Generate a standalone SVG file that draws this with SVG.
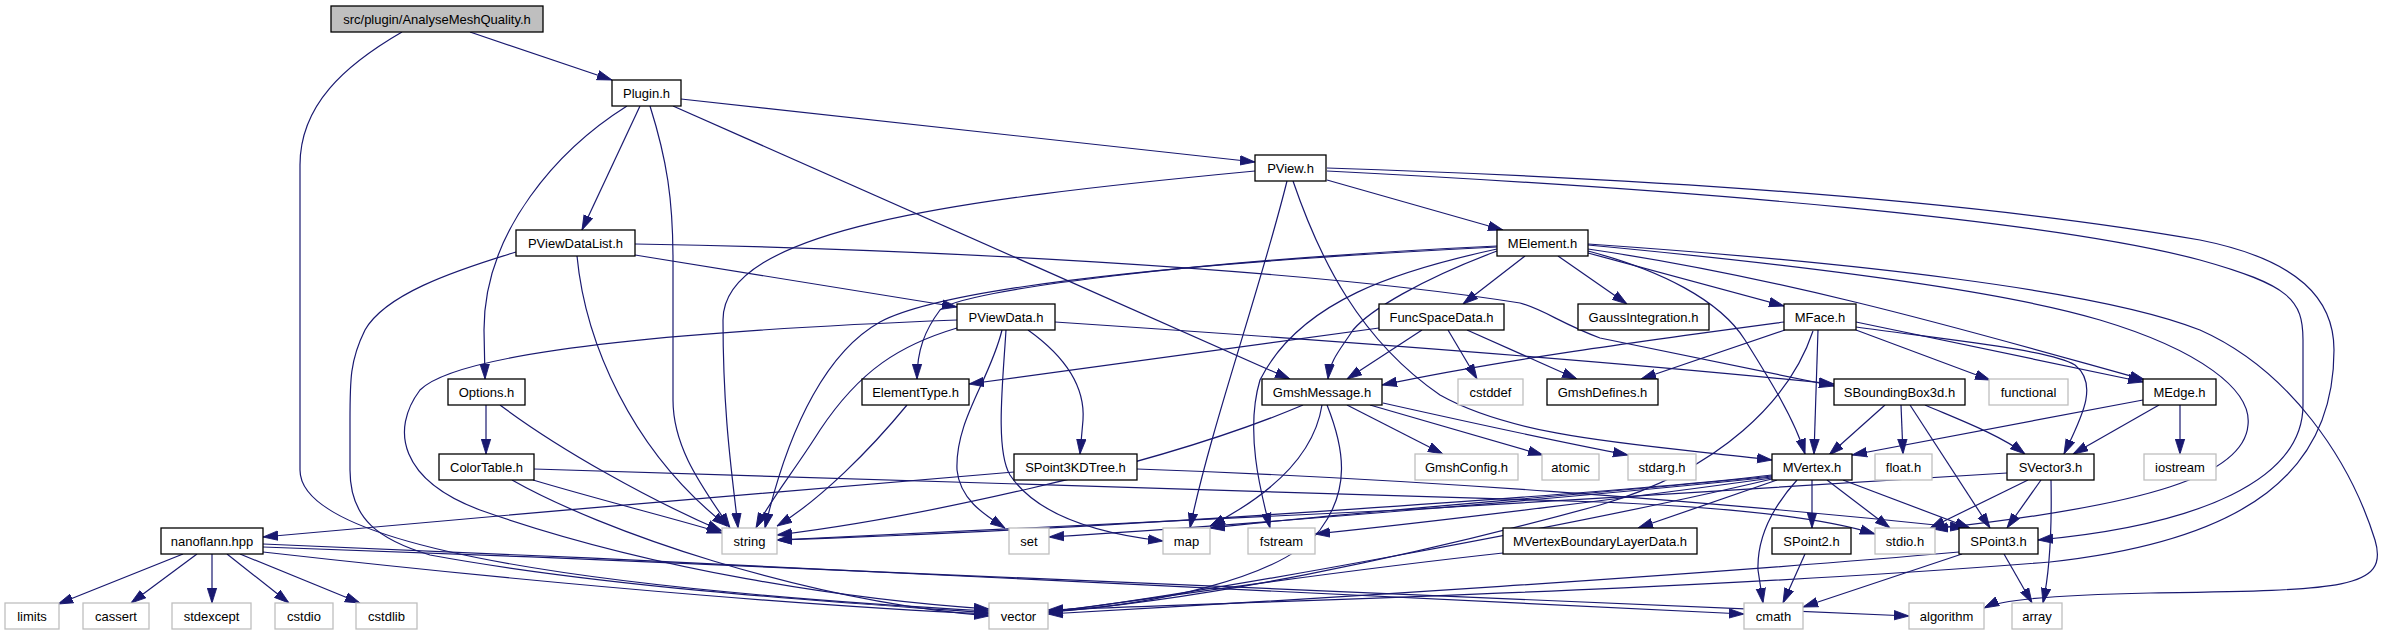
<svg xmlns="http://www.w3.org/2000/svg" width="2381" height="635" viewBox="0 0 2381 635">
<defs>
<marker id="a" markerUnits="userSpaceOnUse" markerWidth="15" markerHeight="11" viewBox="0 0 14 10" refX="14" refY="5" orient="auto">
<path d="M0,0.6 L14,5 L0,9.4 z" fill="#191970" stroke="#191970" stroke-width="0.8"/>
</marker>
<style>
.n rect{fill:#ffffff;stroke:#000000;stroke-width:1.3}
.g rect{fill:#ffffff;stroke:#bfbfbf;stroke-width:1.3}
.r rect{fill:#bfbfbf;stroke:#000000;stroke-width:1.3}
text{font-family:"Liberation Sans",Arial,sans-serif;font-size:13px;text-anchor:middle;fill:#000000}
#edges path{fill:none;stroke:#191970;stroke-width:1.2;marker-end:url(#a)}
</style>
</defs>
<rect x="0" y="0" width="2381" height="635" fill="#ffffff"/>
<g id="edges">
<path d="M470,32 L612,80"/>
<path d="M402,32 C345,65 300,105 300,165 L300,470 C300,560 700,595 989,611"/>
<path d="M640,106 L582,230"/>
<path d="M627,106 C560,148 484,230 484,330 L485,379"/>
<path d="M650,106 C667,160 673,200 673,260 L673,400 C673,450 705,490 730,528"/>
<path d="M681,99 L1255,162"/>
<path d="M673,106 L1290,379"/>
<path d="M1327,180 L1503,230"/>
<path d="M1255,171 C950,200 723,230 723,320 C723,420 733,480 738,528"/>
<path d="M1287,181 C1260,290 1210,430 1190,528"/>
<path d="M1293,181 C1320,260 1360,340 1440,395 C1520,440 1650,445 1772,460"/>
<path d="M1327,171 C1700,190 2050,220 2200,260 C2290,285 2303,300 2303,340 L2303,405 C2303,480 2200,525 2038,540"/>
<path d="M1327,168 C1700,180 2000,205 2200,240 C2300,260 2334,300 2334,350 C2334,470 2250,540 2050,562 C1700,590 1300,600 1048,610"/>
<path d="M635,255 L957,307"/>
<path d="M635,244 C900,248 1300,268 1520,303 C1545,310 1560,323 1600,338 L1834,386"/>
<path d="M577,256 C585,340 630,450 727,526"/>
<path d="M516,252 C450,272 385,295 365,330 C350,360 350,380 350,420 L350,470 C350,520 380,540 430,555 C620,590 880,605 989,613"/>
<path d="M500,405 C560,450 650,500 722,531"/>
<path d="M486,405 L486,454"/>
<path d="M533,480 C600,500 680,520 722,533"/>
<path d="M512,480 C600,530 800,600 989,616"/>
<path d="M534,469 C800,477 1200,490 1600,502 C1750,508 1830,520 1875,534"/>
<path d="M1002,330 C990,380 955,420 957,470 C960,500 985,515 1005,528"/>
<path d="M1006,330 C1003,380 995,450 1010,475 C1040,520 1110,535 1163,541"/>
<path d="M1028,330 C1070,360 1085,390 1083,420 L1080,454"/>
<path d="M957,328 C900,345 860,370 820,430 C795,470 770,500 756,528"/>
<path d="M957,320 C700,330 460,350 420,390 C390,430 400,480 480,510 C650,570 850,600 989,609"/>
<path d="M1055,322 C1400,345 1650,365 1834,384"/>
<path d="M1525,256 L1463,304"/>
<path d="M1558,256 L1627,304"/>
<path d="M1588,253 L1784,306"/>
<path d="M1588,251 C1660,270 1720,300 1745,340 C1770,380 1795,420 1805,454"/>
<path d="M1588,249 C1800,280 2000,340 2145,380"/>
<path d="M1588,245 C1800,265 2000,290 2100,320 C2200,350 2252,390 2248,425 C2244,475 2150,505 1933,529"/>
<path d="M1588,244 C1850,262 2100,290 2200,330 C2290,370 2350,460 2375,540 C2390,590 2340,590 2150,593 C2050,595 2000,600 1984,608"/>
<path d="M1497,247 C1200,262 950,285 880,322 C830,350 790,420 765,528"/>
<path d="M1497,246 C1200,260 960,290 940,310 C925,330 917,350 917,379"/>
<path d="M1497,249 C1400,270 1300,300 1260,380 C1245,430 1260,490 1270,528"/>
<path d="M1497,251 C1420,280 1370,310 1353,330 C1340,350 1330,360 1328,379"/>
<path d="M1856,322 L2143,382"/>
<path d="M1856,327 C1950,340 2050,350 2075,365 C2100,385 2080,420 2064,454"/>
<path d="M1856,330 L1990,380"/>
<path d="M1784,322 C1650,340 1500,360 1382,385"/>
<path d="M1785,330 L1641,379"/>
<path d="M1818,330 L1814,454"/>
<path d="M1813,331 C1790,400 1720,470 1600,505 C1400,560 1200,600 1048,612"/>
<path d="M2143,400 L1852,455"/>
<path d="M2159,405 L2073,454"/>
<path d="M2180,405 L2180,454"/>
<path d="M1885,405 L1829,455"/>
<path d="M1901,405 L1903,454"/>
<path d="M1910,405 L1990,528"/>
<path d="M1925,405 C1960,420 2000,435 2025,454"/>
<path d="M2041,480 L2007,528"/>
<path d="M2051,480 C2052,530 2050,570 2043,603"/>
<path d="M2028,480 L1930,528"/>
<path d="M2007,473 C1850,484 1600,498 1400,510 C1100,525 900,535 777,540"/>
<path d="M1422,330 L1347,379"/>
<path d="M1448,330 L1477,379"/>
<path d="M1467,330 L1577,379"/>
<path d="M1379,328 L969,384"/>
<path d="M907,405 C870,450 820,500 777,526"/>
<path d="M1303,405 C1150,470 900,520 777,535"/>
<path d="M1322,405 C1315,450 1280,490 1210,526"/>
<path d="M1327,405 C1345,450 1350,490 1320,530 C1280,580 1150,605 1048,612"/>
<path d="M1347,405 L1443,454"/>
<path d="M1370,405 L1543,455"/>
<path d="M1383,403 C1450,418 1550,440 1628,455"/>
<path d="M1014,472 C800,490 500,515 263,537"/>
<path d="M1137,469 C1400,478 1700,500 1965,528"/>
<path d="M183,554 L58,604"/>
<path d="M197,554 L131,603"/>
<path d="M212,554 L212,603"/>
<path d="M227,554 L289,603"/>
<path d="M240,554 L360,603"/>
<path d="M263,552 C600,590 850,608 989,614"/>
<path d="M263,544 C800,565 1400,600 1744,614"/>
<path d="M263,547 C900,570 1600,600 1909,616"/>
<path d="M1777,480 L1638,528"/>
<path d="M1797,480 C1770,510 1757,540 1758,570 L1763,603"/>
<path d="M1812,480 L1812,528"/>
<path d="M1827,480 L1890,528"/>
<path d="M1843,480 L1970,528"/>
<path d="M1772,475 C1650,490 1100,530 777,540"/>
<path d="M1772,477 C1600,495 1250,525 1049,537"/>
<path d="M1772,476 C1620,492 1350,512 1210,528"/>
<path d="M1772,478 C1650,495 1450,520 1315,534"/>
<path d="M1772,479 C1600,520 1200,595 1048,612"/>
<path d="M1503,553 C1300,575 1150,600 1048,612"/>
<path d="M1805,554 L1783,603"/>
<path d="M1962,554 L1803,607"/>
<path d="M2004,554 L2032,603"/>
<path d="M1959,552 C1700,575 1300,600 1048,614"/>
</g>
<g id="n_root" class="r"><rect x="331" y="6" width="212" height="26"/><text x="437" y="23.5">src/plugin/AnalyseMeshQuality.h</text></g>
<g id="n_plugin" class="n"><rect x="612" y="80" width="69" height="26"/><text x="646.5" y="97.5">Plugin.h</text></g>
<g id="n_pview" class="n"><rect x="1255" y="155" width="71" height="26"/><text x="1290.5" y="172.5">PView.h</text></g>
<g id="n_pviewdatalist" class="n"><rect x="516" y="230" width="119" height="26"/><text x="575.5" y="247.5">PViewDataList.h</text></g>
<g id="n_melement" class="n"><rect x="1497" y="230" width="91" height="26"/><text x="1542.5" y="247.5">MElement.h</text></g>
<g id="n_pviewdata" class="n"><rect x="957" y="304" width="98" height="26"/><text x="1006" y="321.5">PViewData.h</text></g>
<g id="n_funcspacedata" class="n"><rect x="1379" y="304" width="125" height="26"/><text x="1441.5" y="321.5">FuncSpaceData.h</text></g>
<g id="n_gaussintegration" class="n"><rect x="1578" y="304" width="131" height="26"/><text x="1643.5" y="321.5">GaussIntegration.h</text></g>
<g id="n_mface" class="n"><rect x="1784" y="304" width="72" height="26"/><text x="1820" y="321.5">MFace.h</text></g>
<g id="n_options" class="n"><rect x="448" y="379" width="77" height="26"/><text x="486.5" y="396.5">Options.h</text></g>
<g id="n_elementtype" class="n"><rect x="862" y="379" width="107" height="26"/><text x="915.5" y="396.5">ElementType.h</text></g>
<g id="n_gmshmessage" class="n"><rect x="1262" y="379" width="120" height="26"/><text x="1322" y="396.5">GmshMessage.h</text></g>
<g id="n_cstddef" class="g"><rect x="1458" y="379" width="65" height="26"/><text x="1490.5" y="396.5">cstddef</text></g>
<g id="n_gmshdefines" class="n"><rect x="1547" y="379" width="111" height="26"/><text x="1602.5" y="396.5">GmshDefines.h</text></g>
<g id="n_sboundingbox3d" class="n"><rect x="1834" y="379" width="131" height="26"/><text x="1899.5" y="396.5">SBoundingBox3d.h</text></g>
<g id="n_functional" class="g"><rect x="1989" y="379" width="79" height="26"/><text x="2028.5" y="396.5">functional</text></g>
<g id="n_medge" class="n"><rect x="2143" y="379" width="73" height="26"/><text x="2179.5" y="396.5">MEdge.h</text></g>
<g id="n_colortable" class="n"><rect x="439" y="454" width="95" height="26"/><text x="486.5" y="471.5">ColorTable.h</text></g>
<g id="n_spoint3kdtree" class="n"><rect x="1014" y="454" width="123" height="26"/><text x="1075.5" y="471.5">SPoint3KDTree.h</text></g>
<g id="n_gmshconfig" class="g"><rect x="1415" y="454" width="103" height="26"/><text x="1466.5" y="471.5">GmshConfig.h</text></g>
<g id="n_atomic" class="g"><rect x="1542" y="454" width="57" height="26"/><text x="1570.5" y="471.5">atomic</text></g>
<g id="n_stdarg" class="g"><rect x="1628" y="454" width="68" height="26"/><text x="1662" y="471.5">stdarg.h</text></g>
<g id="n_mvertex" class="n"><rect x="1772" y="454" width="80" height="26"/><text x="1812" y="471.5">MVertex.h</text></g>
<g id="n_float" class="g"><rect x="1875" y="454" width="57" height="26"/><text x="1903.5" y="471.5">float.h</text></g>
<g id="n_svector3" class="n"><rect x="2007" y="454" width="87" height="26"/><text x="2050.5" y="471.5">SVector3.h</text></g>
<g id="n_iostream" class="g"><rect x="2144" y="454" width="72" height="26"/><text x="2180" y="471.5">iostream</text></g>
<g id="n_nanoflann" class="n"><rect x="161" y="528" width="102" height="26"/><text x="212" y="545.5">nanoflann.hpp</text></g>
<g id="n_string" class="g"><rect x="722" y="528" width="55" height="26"/><text x="749.5" y="545.5">string</text></g>
<g id="n_set" class="g"><rect x="1009" y="528" width="40" height="26"/><text x="1029" y="545.5">set</text></g>
<g id="n_map" class="g"><rect x="1163" y="528" width="47" height="26"/><text x="1186.5" y="545.5">map</text></g>
<g id="n_fstream" class="g"><rect x="1248" y="528" width="67" height="26"/><text x="1281.5" y="545.5">fstream</text></g>
<g id="n_mvbld" class="n"><rect x="1503" y="528" width="194" height="26"/><text x="1600" y="545.5">MVertexBoundaryLayerData.h</text></g>
<g id="n_spoint2" class="n"><rect x="1772" y="528" width="79" height="26"/><text x="1811.5" y="545.5">SPoint2.h</text></g>
<g id="n_stdio" class="g"><rect x="1875" y="528" width="60" height="26"/><text x="1905" y="545.5">stdio.h</text></g>
<g id="n_spoint3" class="n"><rect x="1959" y="528" width="79" height="26"/><text x="1998.5" y="545.5">SPoint3.h</text></g>
<g id="n_limits" class="g"><rect x="5" y="603" width="54" height="26"/><text x="32" y="620.5">limits</text></g>
<g id="n_cassert" class="g"><rect x="83" y="603" width="66" height="26"/><text x="116" y="620.5">cassert</text></g>
<g id="n_stdexcept" class="g"><rect x="172" y="603" width="79" height="26"/><text x="211.5" y="620.5">stdexcept</text></g>
<g id="n_cstdio" class="g"><rect x="275" y="603" width="58" height="26"/><text x="304" y="620.5">cstdio</text></g>
<g id="n_cstdlib" class="g"><rect x="356" y="603" width="61" height="26"/><text x="386.5" y="620.5">cstdlib</text></g>
<g id="n_vector" class="g"><rect x="989" y="603" width="59" height="26"/><text x="1018.5" y="620.5">vector</text></g>
<g id="n_cmath" class="g"><rect x="1744" y="603" width="59" height="26"/><text x="1773.5" y="620.5">cmath</text></g>
<g id="n_algorithm" class="g"><rect x="1909" y="603" width="75" height="26"/><text x="1946.5" y="620.5">algorithm</text></g>
<g id="n_array" class="g"><rect x="2012" y="603" width="50" height="26"/><text x="2037" y="620.5">array</text></g>
</svg>
